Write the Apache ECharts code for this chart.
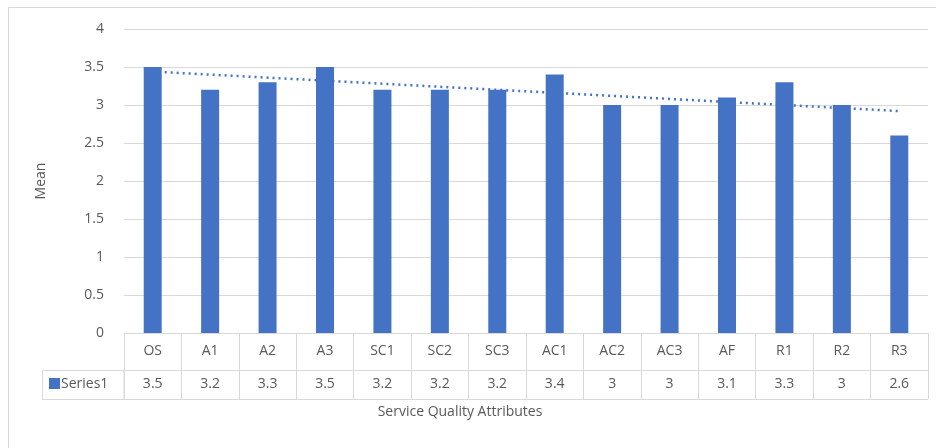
<!DOCTYPE html>
<html>
<head>
<meta charset="utf-8">
<script src="https://cdn.jsdelivr.net/npm/echarts@6/dist/echarts.min.js"></script>
<style>
  html, body { margin: 0; padding: 0; background: #fff; }
  #main { width: 936px; height: 448px; }
</style>
</head>
<body>
<div id="main"></div>
<script>
// categories and means, as printed in the data table
var categories = ['OS', 'A1', 'A2', 'A3', 'SC1', 'SC2', 'SC3', 'AC1', 'AC2', 'AC3', 'AF', 'R1', 'R2', 'R3'];
var means = [3.5, 3.2, 3.3, 3.5, 3.2, 3.2, 3.2, 3.4, 3, 3, 3.1, 3.3, 3, 2.6];
// linear trendline ends
var trendEnds = [3.44, 2.92];
var yTicks = [0, 4, 0.5]; // min, max, step

var textColor = '#595959';
var lineColor = '#d9d9d9';
var barColor = '#4472C4';
var font = '"Open Sans", Lato, sans-serif';
var fs = 14;

var myChart = echarts.init(document.getElementById('main'));

var option = {
	backgroundColor: '#fff',
	animation: false,
	textStyle: { fontFamily: font },
	grid: { left: 124, right: 8, top: 29, bottom: 115 },
	xAxis: [
		{
			type: 'category',
			data: categories,
			position: 'bottom',
			axisLine: { show: true, lineStyle: { color: lineColor, width: 1 } },
			axisTick: { show: true, length: 66, lineStyle: { color: lineColor } },
			axisLabel: { color: textColor, fontSize: fs, margin: 11, fontFamily: font }
		},
		{
			type: 'category',
			data: means.map(String),
			position: 'bottom',
			offset: 37,
			axisLine: { show: true, lineStyle: { color: lineColor, width: 1 } },
			axisTick: { show: false },
			axisLabel: { color: textColor, fontSize: fs, margin: 7, fontFamily: font }
		}
	],
	yAxis: {
		type: 'value',
		min: yTicks[0],
		max: yTicks[1],
		interval: yTicks[2],
		name: 'Mean',
		nameLocation: 'middle',
		nameGap: 76,
		nameTextStyle: { color: textColor, fontSize: fs, fontFamily: font },
		axisLine: { show: false },
		axisTick: { show: false },
		axisLabel: { color: textColor, fontSize: fs, margin: 20, fontFamily: font },
		splitLine: { lineStyle: { color: lineColor, width: 1 } }
	},
	series: [
		{
			name: 'Linear (Series1)',
			type: 'line',
			z: 1,
			data: [[categories[0], trendEnds[0]], [categories[categories.length - 1], trendEnds[1]]],
			showSymbol: false,
			symbol: 'none',
			lineStyle: { color: barColor, width: 2.5, type: [2, 4] }
		},
		{
			name: 'Series1',
			type: 'bar',
			z: 2,
			data: means,
			barWidth: 18,
			itemStyle: { color: barColor }
		}
	],
	graphic: [
		// outer chart frame
		{ type: 'rect', silent: true, shape: { x: 8.5, y: 7.5, width: 960, height: 480 },
		  style: { fill: null, stroke: lineColor, lineWidth: 1 } },
		// bottom border of table
		{ type: 'line', silent: true, shape: { x1: 42, y1: 399.5, x2: 928, y2: 399.5 },
		  style: { stroke: lineColor, lineWidth: 1 } },
		// legend key cell
		{ type: 'rect', silent: true, shape: { x: 42.5, y: 370.5, width: 81.5, height: 29 },
		  style: { fill: null, stroke: lineColor, lineWidth: 1 } },
		{ type: 'rect', silent: true, shape: { x: 49, y: 378, width: 11, height: 11 },
		  style: { fill: barColor } },
		{ type: 'text', silent: true, x: 61, y: 384,
		  style: { text: 'Series1', fill: textColor, fontSize: fs, fontFamily: font, verticalAlign: 'middle' } },
		// x axis title
		{ type: 'text', silent: true, x: 460, y: 412,
		  style: { text: 'Service Quality Attributes', fill: textColor, fontSize: fs, fontFamily: font,
		           align: 'center', verticalAlign: 'middle' } }
	]
};

myChart.setOption(option);
</script>
</body>
</html>
